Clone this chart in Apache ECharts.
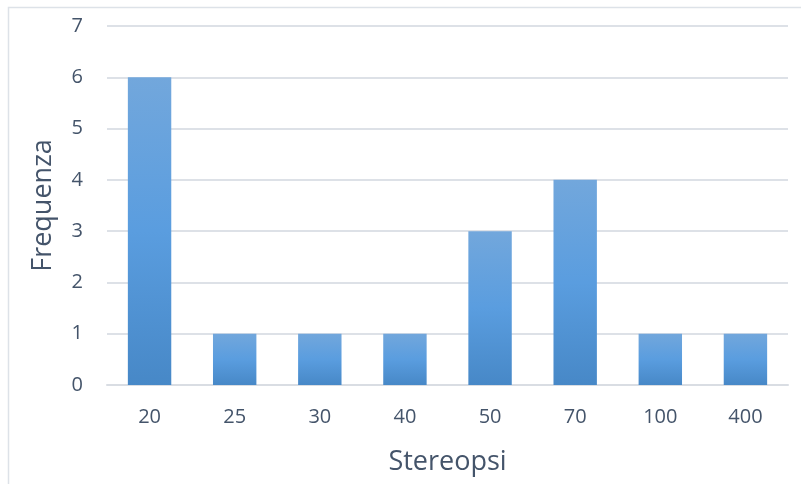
<!DOCTYPE html>
<html>
<head>
<meta charset="utf-8">
<style>
  html, body { margin: 0; padding: 0; background: #fff; }
  #chart { width: 801px; height: 484px; }
</style>
<script src="https://cdn.jsdelivr.net/npm/echarts@6/dist/echarts.min.js"></script>
</head>
<body>
<div id="chart"></div>
<script>
// Stereopsis thresholds (arc seconds) and how often each was measured
const categories = ['20', '25', '30', '40', '50', '70', '100', '400'];
const frequencies = [6, 1, 1, 1, 3, 4, 1, 1];
const yTicks = [0, 1, 2, 3, 4, 5, 6, 7];

const textColor = '#44546a';
const font = 'Open Sans';

const chart = echarts.init(document.getElementById('chart'), null, { renderer: 'canvas' });

// Vertical fill on each bar: soft top, brighter middle, deeper base
const barFill = new echarts.graphic.LinearGradient(0, 0, 0, 1, [
  { offset: 0, color: '#72a7dc' },
  { offset: 0.5, color: '#5a9ddf' },
  { offset: 1, color: '#4788c7' }
]);

chart.setOption({
  animation: false,
  backgroundColor: '#ffffff',
  graphic: [{
    type: 'rect',
    shape: { x: 8.5, y: 7.5, width: 820, height: 500 },
    style: { fill: 'none', stroke: '#dde2e8', lineWidth: 1.5 },
    silent: true
  }],
  grid: { left: 107, right: 13, top: 26, bottom: 99, outerBoundsMode: 'none' },
  xAxis: {
    type: 'category',
    data: categories,
    name: 'Stereopsi',
    nameLocation: 'middle',
    nameGap: 64,
    nameTextStyle: { fontFamily: font, fontSize: 27, color: textColor },
    axisLine: { show: true, lineStyle: { color: '#d9dde3', width: 2 } },
    axisTick: { show: false },
    axisLabel: { fontFamily: font, fontSize: 20, color: textColor, margin: 22 }
  },
  yAxis: {
    type: 'value',
    min: yTicks[0],
    max: yTicks[yTicks.length - 1],
    interval: 1,
    name: 'Frequenza',
    nameLocation: 'middle',
    nameGap: 50,
    nameTextStyle: { fontFamily: font, fontSize: 27, color: textColor },
    axisLine: { show: false },
    axisTick: { show: false },
    axisLabel: { fontFamily: font, fontSize: 20, color: textColor, margin: 24 },
    splitLine: { lineStyle: { color: '#dde1e7', width: 2 } }
  },
  series: [{
    type: 'bar',
    data: frequencies,
    barWidth: '51%',
    itemStyle: { color: barFill }
  }]
});
</script>
</body>
</html>
